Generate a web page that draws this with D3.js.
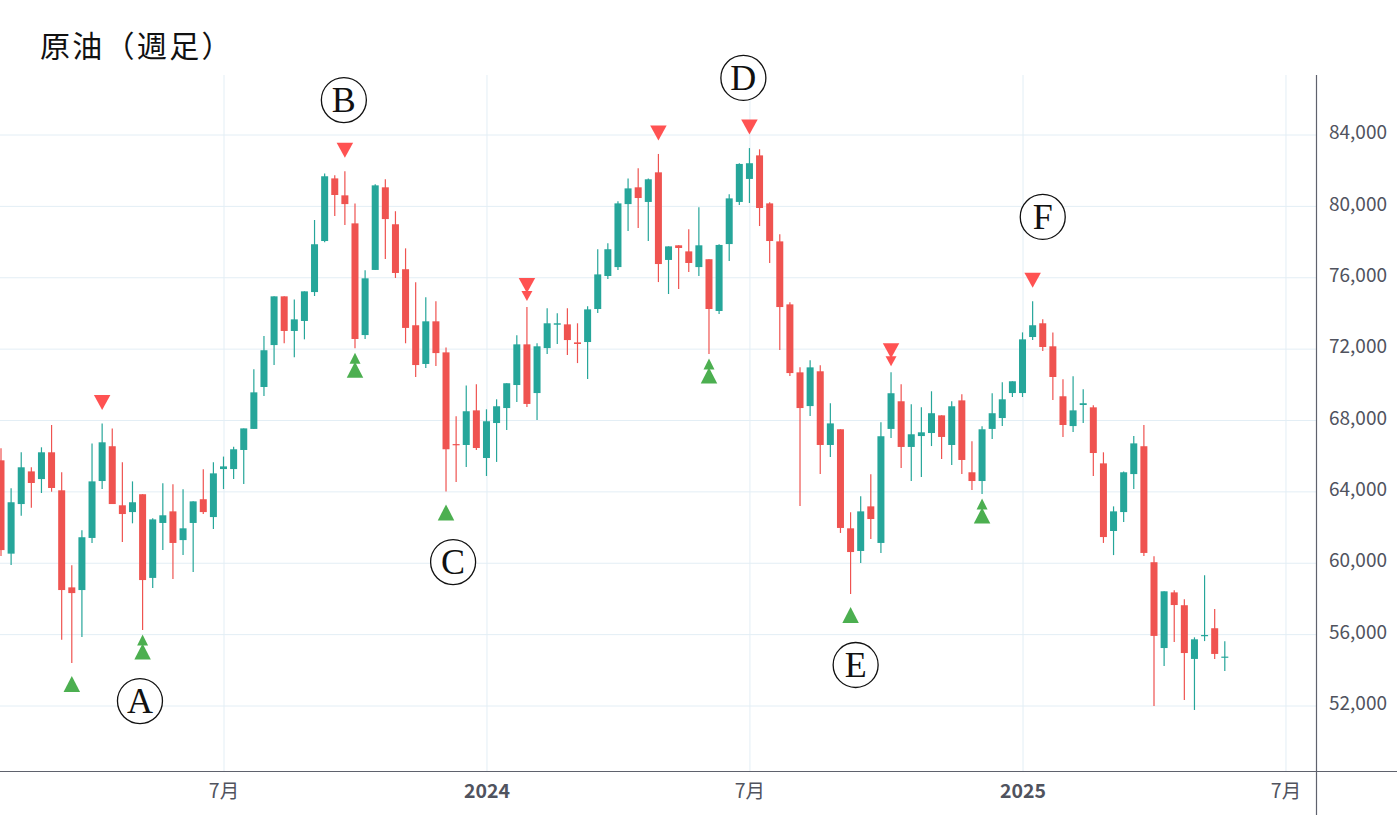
<!DOCTYPE html>
<html>
<head>
    <meta charset="utf-8">
    <title>原油(週足)</title>
    <script src="https://cdn.jsdelivr.net/npm/d3@7"></script>
    <style>
        html, body { margin: 0; padding: 0; background: #fff; overflow: hidden; }
        svg { display: block; }
        .tick-label { font-family: "Noto Sans CJK JP", "Noto Sans", sans-serif; fill: #50535e; }
    </style>
</head>
<body>
    <div id="chart"></div>

    <script>
        // weekly candles (index = week number)
        const opens = [
            65740,60510,63290,65120,64690,66190,64060,58620,58470,61390,
            64580,66530,63220,62840,63840,59150,62230,62880,61270,62230,
            63560,62560,65250,65250,66320,67500,69850,72200,74930,72990,
            73550,75170,78030,81540,80590,79020,72760,76410,81040,78970,
            76450,73310,71140,73530,71790,66650,66600,68540,65870,67830,
            68670,69960,72240,69510,72030,73340,73360,72350,72370,74220,
            76070,76570,80100,81040,80220,81880,76970,77790,77450,76570,
            77010,74110,77860,80220,81510,82830,80140,78010,74480,70670,
            68780,70730,66600,67480,61930,60660,63160,61110,67500,69050,
            66490,67100,67270,68260,66600,69100,65070,64580,67500,68110,
            69510,69510,72650,73420,72130,69330,67660,68840,68710,65570,
            61780,62840,64970,66530,60030,55220,58340,57620,54610,55900,
            56330,54700
        ];
        const highs = [
            66410,64170,66190,65350,66470,67720,65070,59860,61820,66690,
            67810,67530,65630,64560,63840,62490,64450,64400,64120,63440,
            65240,65630,65950,66500,67530,70840,72710,74930,74930,74760,
            75210,79210,81820,81710,81940,80140,76390,81210,81490,79700,
            77620,75720,74880,74650,72070,68210,69940,70000,68600,69160,
            70060,72750,74330,72300,74260,73980,74260,73420,74370,77570,
            77900,80260,81540,82110,81540,82910,77730,77790,78690,79920,
            77010,77850,80650,82390,83240,83170,80200,78410,74600,70950,
            71350,71070,68940,67480,62830,63720,64960,67870,70670,70000,
            68880,68710,69610,68260,69050,69440,66810,67650,69500,70110,
            70170,72910,74650,73640,72910,70280,70450,69720,68820,66190,
            63160,65120,67100,67720,60360,58400,58460,57950,55820,59300,
            57410,55600
        ];
        const lows = [
            60380,59870,62640,63080,63910,63980,55690,54380,55840,61110,
            64130,63290,61160,62210,56230,58590,60710,59090,60430,59480,
            62730,61890,64130,64690,64410,67500,69340,71080,72300,71510,
            72520,74950,77960,79430,78930,72020,72540,76410,77020,75960,
            72300,70410,70910,71030,64000,64530,65370,66320,64860,65650,
            67440,69010,68730,68000,71700,72260,71640,71190,70300,74000,
            75900,76410,78590,78760,78030,75730,75060,75340,76290,76070,
            71700,73940,76910,80050,80160,78870,76800,71920,70470,63180,
            68220,64970,65930,61670,58250,59990,61330,60550,66990,65310,
            64580,64810,66540,65810,65480,64970,64080,63850,66930,67660,
            69290,69290,72480,71870,69120,67050,67330,67830,64860,61110,
            60430,62280,64130,60380,51970,54210,55560,52310,51750,55610,
            54610,53930
        ];
        const closes = [
            60710,63390,65350,64470,66190,64190,58470,58300,61430,64560,
            66750,63290,62730,63390,59030,62430,62660,61110,61930,63440,
            62840,65010,65400,66360,67530,69550,71910,74930,72990,73640,
            75210,77850,81660,80610,80100,72540,75940,81150,79260,76240,
            73160,71080,73530,71750,66360,66600,68490,66430,67930,68770,
            70060,72240,68900,72130,73420,73420,72480,72260,74200,76160,
            77570,80140,80980,80440,81490,76740,77730,77640,76800,77790,
            74220,77810,80420,82350,82390,79880,78030,74330,70630,68670,
            70950,66600,67810,61950,60600,62880,62450,67090,69500,66490,
            67200,67310,68380,67050,68770,65760,64580,67480,68380,69160,
            70170,72520,73310,72090,70410,67720,68540,68940,66150,61440,
            62880,65070,66690,60550,55900,58400,57630,54940,55710,55950,
            54890,54740
        ];

        // sell / buy signals (candle index)
        const sellOne = [10, 34, 65, 74, 102];
        const sellTwo = [52, 88];
        const buyOne = [7, 44, 84];
        const buyTwo = [14, 35, 70, 97];

        // circled letters
        const noteLabels = ["A", "B", "C", "D", "E", "F"];
        const noteIndex = [13.74, 33.9, 44.7, 73.4, 84.5, 103];
        const notePrice = [52250, 85930, 60040, 87170, 54270, 79380];

        const priceTicks = [52000, 56000, 60000, 64000, 68000, 72000, 76000, 80000, 84000];
        const timeTicks = [22, 48, 74, 101, 127];
        const timeLabels = ["7月", "2024", "7月", "2025", "7月"];
        const chartTitle = "原油\uFF08週足\uFF09"; // full-width brackets

        const width = 1397, height = 815;
        const plotRight = 1316, plotTop = 75, plotBottom = 771;
        const up = "#26a69a", down = "#ef5350", gridColor = "#e3eef5", axisColor = "#5f626d";

        const x = d3.scaleLinear().domain([0, 121]).range([1, 1224.8]);
        const y = d3.scaleLinear().domain([52000, 84000]).range([705.5, 134.5]);

        const svg = d3.select("#chart").append("svg")
            .attr("width", width)
            .attr("height", height);

        // grid
        svg.append("g")
            .attr("transform", `translate(${plotRight},0)`)
            .call(d3.axisLeft(y).tickValues(priceTicks).tickSize(plotRight).tickFormat(""))
            .call(g => g.select(".domain").remove())
            .call(g => g.selectAll("line").attr("stroke", gridColor));

        svg.append("g")
            .attr("transform", `translate(0,${plotBottom})`)
            .call(d3.axisTop(x).tickValues(timeTicks).tickSize(plotBottom - plotTop).tickFormat(""))
            .call(g => g.select(".domain").remove())
            .call(g => g.selectAll("line").attr("stroke", gridColor));

        // candles
        const candles = svg.append("g").selectAll("g")
            .data(opens.map((o, i) => i))
            .enter().append("g")
            .attr("transform", i => `translate(${x(i)},0)`)
            .attr("fill", i => closes[i] >= opens[i] ? up : down)
            .attr("stroke", i => closes[i] >= opens[i] ? up : down);

        candles.append("line")
            .attr("y1", i => y(highs[i]))
            .attr("y2", i => y(lows[i]))
            .attr("stroke-width", 1.2);

        candles.append("rect")
            .attr("x", -3.5)
            .attr("width", 7)
            .attr("y", i => y(Math.max(opens[i], closes[i])))
            .attr("height", i => Math.max(1.2, Math.abs(y(opens[i]) - y(closes[i]))))
            .attr("stroke", "none");

        // signal triangles, hung off the wick ends
        function tri(cx, tipY, w, h, color) {
            const path = d3.path();
            path.moveTo(cx, tipY);
            path.lineTo(cx - w / 2, tipY + h);
            path.lineTo(cx + w / 2, tipY + h);
            path.closePath();
            svg.append("path").attr("d", path.toString()).attr("fill", color);
        }
        const sellColor = "#ff5252", buyColor = "#4caf50";

        sellOne.forEach(i => tri(x(i), y(highs[i]) - 13.5, 16.5, -15, sellColor));
        sellTwo.forEach(i => {
            tri(x(i), y(highs[i]) - 6, 11, -10, sellColor);
            tri(x(i), y(highs[i]) - 14, 16.5, -15, sellColor);
        });
        buyOne.forEach(i => tri(x(i), y(lows[i]) + 13, 16.5, 16, buyColor));
        buyTwo.forEach(i => {
            tri(x(i), y(lows[i]) + 4.5, 11, 11, buyColor);
            tri(x(i), y(lows[i]) + 13.5, 16.5, 16, buyColor);
        });

        // circled letters
        const notes = svg.append("g").selectAll("g")
            .data(noteLabels)
            .enter().append("g")
            .attr("transform", (d, i) => `translate(${x(noteIndex[i])},${y(notePrice[i])})`);

        notes.append("circle")
            .attr("r", 22.5)
            .attr("fill", "#fff")
            .attr("stroke", "#111")
            .attr("stroke-width", 1.3);

        notes.append("text")
            .attr("text-anchor", "middle")
            .attr("dy", "0.33em")
            .style("font-family", '"Liberation Serif", serif')
            .style("font-size", "36px")
            .attr("fill", "#111")
            .text(d => d);

        // axes
        const yAxis = svg.append("g")
            .attr("transform", `translate(${plotRight},0)`)
            .call(d3.axisRight(y).tickValues(priceTicks).tickSize(0).tickPadding(13).tickFormat(d3.format(",")));
        yAxis.select(".domain").remove();
        yAxis.selectAll("text")
            .attr("class", "tick-label")
            .attr("dy", "0.22em")
            .style("font-size", "19px");

        const xAxis = svg.append("g")
            .attr("transform", `translate(0,${plotBottom})`)
            .call(d3.axisBottom(x).tickValues(timeTicks).tickSize(0).tickPadding(13)
                .tickFormat((d, i) => timeLabels[i]));
        xAxis.select(".domain").remove();
        xAxis.selectAll("text")
            .attr("class", "tick-label")
            .style("font-size", "19.5px")
            .style("font-weight", (d, i) => timeLabels[i].length > 2 ? 700 : 400);

        svg.append("line")
            .attr("x1", 0).attr("x2", width)
            .attr("y1", plotBottom + 0.5).attr("y2", plotBottom + 0.5)
            .attr("stroke", axisColor)
            .attr("stroke-width", 1.2);

        svg.append("line")
            .attr("x1", plotRight + 0.5).attr("x2", plotRight + 0.5)
            .attr("y1", plotTop).attr("y2", height)
            .attr("stroke", axisColor)
            .attr("stroke-width", 1.2);

        // title
        svg.append("text")
            .attr("x", 40)
            .attr("y", 57)
            .style("font-family", '"Noto Sans CJK JP", sans-serif')
            .style("font-size", "30px")
            .style("letter-spacing", "2.3px")
            .attr("fill", "#111")
            .text(chartTitle);
    </script>
</body>
</html>
